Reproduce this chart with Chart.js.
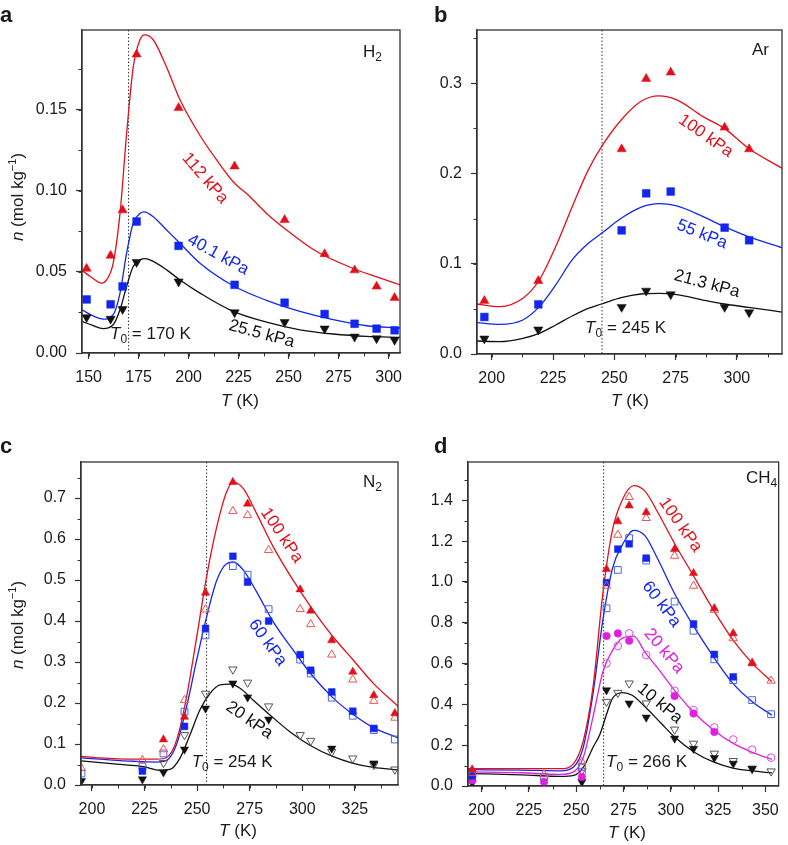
<!DOCTYPE html>
<html>
<head>
<meta charset="utf-8">
<script src="https://cdn.jsdelivr.net/npm/chart.js@4.4.1/dist/chart.umd.min.js"></script>
<style>
  html, body { margin: 0; padding: 0; background: #fff; }
  #wrap { position: relative; width: 788px; height: 845px; overflow: hidden; }
  canvas { position: absolute; left: 0; top: 0; }
</style>
</head>
<body>
<div id="wrap">
  <canvas id="ca" width="788" height="845"></canvas>
  <canvas id="cb" width="788" height="845"></canvas>
  <canvas id="cc" width="788" height="845"></canvas>
  <canvas id="cd" width="788" height="845"></canvas>
</div>
<script>
// ---- panel a : H2 ----
const aT = [149, 161, 167, 174, 195, 223, 248, 268, 283, 294, 303];
const aN112 = [0.052, 0.060, 0.088, 0.184, 0.151, 0.115, 0.082, 0.061, 0.051, 0.041, 0.034];
const aN40 = [0.033, 0.030, 0.041, 0.081, 0.066, 0.042, 0.031, 0.024, 0.018, 0.015, 0.014];
const aN25 = [0.022, 0.021, 0.027, 0.056, 0.044, 0.025, 0.019, 0.015, 0.010, 0.009, 0.008];
const aFitT112 = [146.7, 151, 156.5, 159, 162.3, 165.7, 169, 172.3, 175.7, 178, 182.3, 189, 195.7, 205.7, 214, 222.3, 230.7, 239, 249, 264, 283.3, 293.7, 305.7];
const aFit112 = [0.0508, 0.047, 0.043, 0.045, 0.0553, 0.086, 0.135, 0.176, 0.193, 0.196, 0.193, 0.176, 0.156, 0.134, 0.119, 0.1055, 0.0963, 0.086, 0.0758, 0.0625, 0.0516, 0.047, 0.042];
const aFitT40 = [146.7, 152, 157.3, 162.3, 165.7, 169, 172.3, 175.7, 177.7, 182.3, 189, 195.7, 205.7, 222.3, 239, 255.7, 272.3, 289, 305.7];
const aFit40 = [0.0266, 0.023, 0.0209, 0.0236, 0.0369, 0.0615, 0.0799, 0.086, 0.0869, 0.084, 0.0758, 0.0676, 0.0553, 0.0414, 0.0324, 0.0256, 0.0205, 0.0168, 0.0154];
const aFitT25 = [146.7, 152, 157.3, 162.3, 165.7, 169, 172.3, 175.7, 178.2, 182.3, 189, 195.7, 205.7, 222.3, 239, 255.7, 272.3, 289, 305.7];
const aFit25 = [0.0195, 0.017, 0.015, 0.0174, 0.0266, 0.041, 0.0533, 0.0574, 0.0582, 0.0564, 0.0512, 0.045, 0.0369, 0.0256, 0.019, 0.0143, 0.0117, 0.0102, 0.0096];
const aXTicks = [150, 175, 200, 225, 250, 275, 300];
const aYTicks = [0, 0.05, 0.10, 0.15];

// ---- panel b : Ar ----
const bT = [197, 219, 253, 263, 273, 295, 305];
const bN100 = [0.059, 0.081, 0.227, 0.305, 0.312, 0.251, 0.227];
const bN55 = [0.041, 0.055, 0.137, 0.178, 0.180, 0.140, 0.126];
const bN21 = [0.017, 0.027, 0.052, 0.070, 0.066, 0.052, 0.046];
const bFitT = [194, 203.3, 212.7, 219.4, 226.1, 232.8, 239.4, 244.8, 252.8, 260.8, 268.2, 275.5, 286.2, 294.9, 304.7, 318.4];
const bFit100 = [0.0554, 0.0525, 0.0617, 0.082, 0.119, 0.163, 0.204, 0.2298, 0.2593, 0.2797, 0.2859, 0.2815, 0.263, 0.250, 0.228, 0.2058];
const bFit55 = [0.0347, 0.0329, 0.0377, 0.0525, 0.0765, 0.1042, 0.1226, 0.1337, 0.1504, 0.1625, 0.1666, 0.164, 0.1522, 0.1411, 0.130, 0.1178];
const bFit21 = [0.0144, 0.0137, 0.0174, 0.0229, 0.0321, 0.0421, 0.0506, 0.0554, 0.0624, 0.0665, 0.0672, 0.0658, 0.0598, 0.0554, 0.0517, 0.0465];
const bXTicks = [200, 225, 250, 275, 300];
const bYTicks = [0, 0.1, 0.2, 0.3];

// ---- panel c : N2 (filled / open symbols) ----
const cT = [195, 224, 234, 244, 254, 267, 274, 284, 299, 304, 314, 324, 334, 344];
const cN100f = [null, null, 0.111, 0.166, 0.469, 0.739, 0.686, null, 0.477, 0.425, 0.353, 0.276, 0.219, 0.175];
const cN100o = [0.041, 0.061, 0.087, 0.207, 0.428, 0.668, 0.658, 0.573, 0.429, 0.392, 0.318, 0.257, 0.205, 0.164];
const cN60f = [null, 0.034, null, 0.143, 0.382, 0.558, 0.495, 0.400, 0.318, 0.280, 0.227, 0.180, 0.138, null];
const cN60o = [0.028, 0.045, 0.077, 0.179, 0.365, 0.534, 0.513, 0.429, 0.306, 0.272, 0.213, 0.169, 0.134, 0.111];
const cN20f = [0.010, 0.014, 0.031, 0.087, 0.187, 0.248, 0.214, 0.160, null, null, 0.089, null, 0.053, null];
const cN20o = [null, null, 0.054, 0.122, 0.223, 0.282, 0.250, 0.192, 0.122, 0.108, 0.081, 0.065, 0.049, 0.038];
const cFitT = [194.8, 203.8, 219.7, 230.7, 235.5, 240.3, 245, 249.8, 254.5, 259.3, 264, 267.2, 272, 278.3, 286.2, 295.7, 305.2, 314.7, 324.2, 333.8, 345.5];
const cFit100 = [0.070, 0.066, 0.063, 0.063, 0.067, 0.11, 0.215, 0.361, 0.508, 0.629, 0.715, 0.739, 0.723, 0.662, 0.581, 0.499, 0.426, 0.361, 0.305, 0.248, 0.192];
const cFit60 = [0.066, 0.063, 0.058, 0.056, 0.060, 0.100, 0.191, 0.305, 0.41, 0.499, 0.54, 0.544, 0.524, 0.471, 0.398, 0.329, 0.264, 0.212, 0.172, 0.140, 0.115];
const cFitT20 = [194.8, 211.7, 224.4, 232.3, 237.1, 241.8, 246.6, 251.3, 256.1, 260.9, 265.6, 270.4, 276.7, 284.6, 294.1, 303.6, 314.7, 324.2, 333.8, 345.5];
const cFit20 = [0.059, 0.051, 0.045, 0.036, 0.038, 0.065, 0.122, 0.183, 0.223, 0.244, 0.246, 0.236, 0.207, 0.171, 0.130, 0.097, 0.069, 0.053, 0.043, 0.037];
const cXTicks = [200, 225, 250, 275, 300, 325];
const cYTicks = [0, 0.1, 0.2, 0.3, 0.4, 0.5, 0.6, 0.7];

// ---- panel d : CH4 (filled / open symbols) ----
const dT = [195, 233, 253, 266, 272, 278, 287, 302, 312, 323, 333, 343, 353];
const dN100f = [0.081, null, null, 1.063, 1.297, 1.374, 1.341, 1.161, 1.043, 0.871, 0.748, 0.601, null];
const dN100o = [0.064, 0.057, 0.118, 0.981, 1.231, 1.416, 1.313, 1.128, 0.981, 0.863, 0.724, 0.604, 0.516];
const dN60f = [0.050, null, null, 0.997, 1.161, 1.187, 1.117, null, 0.794, 0.645, 0.535, null, null];
const dN60o = [0.055, 0.045, 0.093, 0.871, 1.059, 1.215, 1.105, 0.904, 0.761, 0.621, 0.519, 0.421, 0.352];
const dN20f = [0.028, 0.020, 0.044, 0.735, 0.748, 0.712, null, 0.441, 0.355, 0.265, null, null, null];
const dN20o = [0.045, 0.044, 0.069, 0.601, 0.686, 0.748, 0.642, 0.467, 0.372, 0.287, 0.228, 0.178, 0.139];
const dN10f = [0.015, null, 0.020, 0.470, null, 0.405, 0.336, 0.233, 0.183, 0.138, 0.110, 0.085, null];
const dN10o = [null, null, 0.075, 0.413, 0.457, 0.503, 0.405, 0.277, 0.208, 0.159, 0.123, 0.085, 0.072];
const dFitT = [192.8, 221.1, 241.8, 248.6, 253.8, 258.9, 264.1, 269.2, 274.4, 280.4, 286.4, 293.3, 301.9, 312.2, 322.5, 332.8, 343.1, 353.4];
const dFit100 = [0.085, 0.085, 0.085, 0.11, 0.224, 0.486, 0.945, 1.256, 1.403, 1.472, 1.444, 1.338, 1.19, 1.027, 0.863, 0.716, 0.601, 0.511];
const dFit60 = [0.080, 0.078, 0.074, 0.093, 0.192, 0.454, 0.814, 1.068, 1.182, 1.253, 1.226, 1.109, 0.945, 0.781, 0.634, 0.503, 0.413, 0.347];
const dFit20 = [0.069, 0.065, 0.057, 0.069, 0.142, 0.34, 0.56, 0.665, 0.725, 0.735, 0.655, 0.575, 0.47, 0.36, 0.275, 0.21, 0.165, 0.13];
const dFitT10 = [192.8, 221.1, 241.8, 248.6, 253.8, 258.9, 262.4, 266, 269.2, 274.4, 279.6, 286.4, 295, 301.9, 312.2, 322.5, 332.8, 343.1, 353.4];
const dFit10 = [0.061, 0.055, 0.047, 0.052, 0.093, 0.19, 0.25, 0.35, 0.43, 0.458, 0.445, 0.388, 0.306, 0.241, 0.167, 0.118, 0.088, 0.074, 0.064];
const dXTicks = [200, 225, 250, 275, 300, 325, 350];
const dYTicks = [0, 0.2, 0.4, 0.6, 0.8, 1.0, 1.2, 1.4];

const FF = '"Liberation Sans", Arial, Helvetica, sans-serif';
const RED = '#e2101a', RED_O = '#e45656';
const BLUE = '#1226ee', BLUE_O = '#5064e4';
const MAG = '#e020e0', MAG_O = '#e04ae0';
const BLK = '#111111', BLK_O = '#555555';

function pts(xs, ys) {
  return xs.map((x, i) => ({ x: x, y: ys[i] })).filter(p => p.y !== null);
}
function fit(xs, ys, color) {
  return { data: pts(xs, ys), showLine: true, pointRadius: 0, borderColor: color,
    borderWidth: 1.3, cubicInterpolationMode: 'monotone', order: 2 };
}
function marks(xs, ys, style, color, open, r, rot) {
  return { data: pts(xs, ys), showLine: false, pointStyle: style, pointRotation: rot || 0,
    pointRadius: r, pointBackgroundColor: open ? 'rgba(255,255,255,0)' : color,
    pointBorderColor: color, pointBorderWidth: open ? 1 : 0.5, order: 1 };
}

function runs(ctx, list, x, y, center) {
  let w = 0;
  list.forEach(r => { ctx.font = r[1]; w += ctx.measureText(r[0]).width; });
  let cx = center ? x - w / 2 : x;
  list.forEach(r => { ctx.font = r[1]; ctx.fillText(r[0], cx, y + (r[2] || 0)); cx += ctx.measureText(r[0]).width; });
}

function decor(p) {
  return {
    id: 'decor',
    beforeDatasetsDraw(chart) {
      const ctx = chart.ctx, a = chart.chartArea;
      const x = chart.scales.x.getPixelForValue(p.t0Line);
      ctx.save();
      ctx.strokeStyle = '#333'; ctx.lineWidth = 1; ctx.setLineDash([1.5, 2]);
      ctx.beginPath(); ctx.moveTo(x, a.top); ctx.lineTo(x, a.bottom); ctx.stroke();
      ctx.restore();
    },
    afterDraw(chart) {
      const ctx = chart.ctx, a = chart.chartArea, xs = chart.scales.x, ys = chart.scales.y;
      ctx.save();
      ctx.strokeStyle = '#333'; ctx.lineWidth = 1.3;
      ctx.strokeRect(a.left, a.top, a.right - a.left, a.bottom - a.top);
      // minor ticks
      ctx.lineWidth = 1;
      for (let v = p.xTicks[0] - p.xMinor; v <= xs.max; v += p.xMinor) {
        if (v < xs.min) continue;
        const px = Math.round(xs.getPixelForValue(v)) + 0.5;
        ctx.beginPath(); ctx.moveTo(px, a.bottom); ctx.lineTo(px, a.bottom + 3.5); ctx.stroke();
      }
      for (let v = p.yMinor; v <= ys.max; v += p.yMinor) {
        const py = Math.round(ys.getPixelForValue(v)) + 0.5;
        ctx.beginPath(); ctx.moveTo(a.left, py); ctx.lineTo(a.left - 3.5, py); ctx.stroke();
      }
      ctx.fillStyle = '#1a1a1a';
      ctx.textBaseline = 'alphabetic';
      // panel letter
      ctx.font = 'bold 22px ' + FF;
      ctx.fillText(p.letter, p.letterPos[0], p.letterPos[1]);
      // gas label
      runs(ctx, [[p.gas[0], '17px ' + FF], [p.gas[1], '12px ' + FF, 4]], p.gasPos[0], p.gasPos[1], false);
      // x title
      runs(ctx, [['T', 'italic 17px ' + FF], [' (K)', '17px ' + FF]], p.xTitle[0], p.xTitle[1], true);
      // y title
      if (p.yTitle) {
        ctx.save();
        ctx.translate(p.yTitle[0], p.yTitle[1]);
        ctx.rotate(-Math.PI / 2);
        ctx.textBaseline = 'middle';
        runs(ctx, [['n', 'italic 17px ' + FF], [' (mol kg', '17px ' + FF], ['\u22121', '11px ' + FF, -5], [')', '17px ' + FF]], 0, 0, true);
        ctx.restore();
      }
      // T0 label
      runs(ctx, [['T', 'italic 17px ' + FF], ['0', '12px ' + FF, 4], [p.t0Text, '17px ' + FF]],
        xs.getPixelForValue(p.t0Pos[0]), ys.getPixelForValue(p.t0Pos[1]), false);
      // curve labels
      p.labels.forEach(l => {
        ctx.save();
        ctx.translate(xs.getPixelForValue(l[1]), ys.getPixelForValue(l[2]));
        ctx.rotate(l[3] * Math.PI / 180);
        ctx.fillStyle = l[4];
        ctx.font = '17px ' + FF;
        ctx.textAlign = 'center'; ctx.textBaseline = 'middle';
        ctx.fillText(l[0], 0, 0);
        ctx.restore();
      });
      ctx.restore();
    }
  };
}

function panel(id, p) {
  const YW = 70, XH = 40;
  new Chart(document.getElementById(id), {
    type: 'scatter',
    data: { datasets: p.datasets },
    options: {
      responsive: false, animation: false, events: [],
      layout: { padding: { left: p.area[0] - YW, top: p.area[1], right: 788 - p.area[2], bottom: 845 - p.area[3] - XH } },
      plugins: { legend: { display: false }, tooltip: { enabled: false } },
      scales: {
        x: {
          type: 'linear', min: p.xRange[0], max: p.xRange[1],
          afterBuildTicks: s => { s.ticks = p.xTicks.map(v => ({ value: v })); },
          afterFit: s => { s.height = XH; },
          grid: { drawOnChartArea: false, tickLength: 6, color: '#333', tickWidth: 1.2 },
          border: { display: true, color: '#333', width: 1.3 },
          ticks: { autoSkip: false, maxRotation: 0, padding: 9, color: '#1a1a1a', font: { family: FF, size: 16 },
            callback: v => String(v) }
        },
        y: {
          type: 'linear', min: p.yRange[0], max: p.yRange[1],
          afterBuildTicks: s => { s.ticks = p.yTicks.map(v => ({ value: v })); },
          afterFit: s => { s.width = YW; },
          grid: { drawOnChartArea: false, tickLength: 6, color: '#333', tickWidth: 1.2 },
          border: { display: true, color: '#333', width: 1.3 },
          ticks: { autoSkip: false, padding: 9, color: '#1a1a1a', font: { family: FF, size: 16 },
            callback: v => v.toFixed(p.yDec) }
        }
      }
    },
    plugins: [decor(p)]
  });
}

panel('ca', {
  area: [82, 30, 400, 353], xRange: [146.7, 305.7], yRange: [0, 0.199],
  xTicks: aXTicks, yTicks: aYTicks, yDec: 2, xMinor: 12.5, yMinor: 0.025,
  letter: 'a', letterPos: [0, 22], gas: ['H', '2'], gasPos: [363, 57],
  xTitle: [240, 406], yTitle: [18, 197],
  t0Line: 170, t0Pos: [160.7, 0.0086], t0Text: ' = 170 K',
  labels: [['112 kPa', 208.2, 0.1076, 49, RED], ['40.1 kPa', 214.8, 0.0605, 29, BLUE], ['25.5 kPa', 236.5, 0.0117, 15, BLK]],
  datasets: [
    marks(aT, aN112, 'triangle', RED, false, 5.3),
    marks(aT, aN40, 'rect', BLUE, false, 5.5),
    marks(aT, aN25, 'triangle', BLK, false, 5.3, 180),
    fit(aFitT112, aFit112, RED), fit(aFitT40, aFit40, BLUE), fit(aFitT25, aFit25, BLK)
  ]
});

panel('cb', {
  area: [477, 30, 787, 354], xRange: [194, 318.4], yRange: [0, 0.359],
  xTicks: bXTicks, yTicks: bYTicks, yDec: 1, xMinor: 12.5, yMinor: 0.05,
  letter: 'b', letterPos: [434, 22], gas: ['Ar', ''], gasPos: [752, 55],
  xTitle: [630, 406], yTitle: null,
  t0Line: 245, t0Pos: [238.1, 0.0229], t0Text: ' = 245 K',
  labels: [['100 kPa', 287.3, 0.2416, 35, RED], ['55 kPa', 285.8, 0.1326, 22, BLUE], ['21.3 kPa', 287.8, 0.0776, 15, BLK]],
  datasets: [
    marks(bT, bN100, 'triangle', RED, false, 5.3),
    marks(bT, bN55, 'rect', BLUE, false, 5.5),
    marks(bT, bN21, 'triangle', BLK, false, 5.3, 180),
    fit(bFitT, bFit100, RED), fit(bFitT, bFit55, BLUE), fit(bFitT, bFit21, BLK)
  ]
});

panel('cc', {
  area: [81, 462, 398, 785], xRange: [194.8, 345.5], yRange: [0, 0.788],
  xTicks: cXTicks, yTicks: cYTicks, yDec: 1, xMinor: 12.5, yMinor: 0.05,
  letter: 'c', letterPos: [0, 453], gas: ['N', '2'], gasPos: [363, 487],
  xTitle: [238, 836], yTitle: [18, 625],
  t0Line: 254.5, t0Pos: [247.4, 0.0447], t0Text: ' = 254 K',
  labels: [['100 kPa', 290.2, 0.609, 56, RED], ['60 kPa', 283.5, 0.347, 54, BLUE], ['20 kPa', 274.8, 0.158, 35, BLK]],
  datasets: [
    marks(cT, cN100f, 'triangle', RED, false, 4.8),
    marks(cT, cN100o, 'triangle', RED_O, true, 4.8),
    marks(cT, cN60f, 'rect', BLUE, false, 4.8),
    marks(cT, cN60o, 'rect', BLUE_O, true, 4.8),
    marks(cT, cN20f, 'triangle', BLK, false, 4.8, 180),
    marks(cT, cN20o, 'triangle', BLK_O, true, 4.8, 180),
    fit(cFitT, cFit100, RED), fit(cFitT, cFit60, BLUE), fit(cFitT20, cFit20, BLK)
  ]
});

panel('cd', {
  area: [468, 462, 787, 786], xRange: [192.8, 357], yRange: [0, 1.588],
  xTicks: dXTicks, yTicks: dYTicks, yDec: 1, xMinor: 12.5, yMinor: 0.1,
  letter: 'd', letterPos: [434, 453], gas: ['CH', '4'], gasPos: [746, 483],
  xTitle: [627, 838], yTitle: null,
  t0Line: 264.5, t0Pos: [265.8, 0.093], t0Text: ' = 266 K',
  labels: [['100 kPa', 305, 1.28, 55, RED], ['60 kPa', 295, 0.891, 53, BLUE], ['20 kPa', 296.4, 0.662, 50, MAG], ['10 kPa', 294.2, 0.404, 40, BLK]],
  datasets: [
    marks(dT, dN100f, 'triangle', RED, false, 4.8),
    marks(dT, dN100o, 'triangle', RED_O, true, 4.8),
    marks(dT, dN60f, 'rect', BLUE, false, 4.8),
    marks(dT, dN60o, 'rect', BLUE_O, true, 4.8),
    marks(dT, dN20f, 'circle', MAG, false, 3.8),
    marks(dT, dN20o, 'circle', MAG_O, true, 3.8),
    marks(dT, dN10f, 'triangle', BLK, false, 4.8, 180),
    marks(dT, dN10o, 'triangle', BLK_O, true, 4.8, 180),
    fit(dFitT, dFit100, RED), fit(dFitT, dFit60, BLUE), fit(dFitT, dFit20, MAG), fit(dFitT10, dFit10, BLK)
  ]
});
</script>
</body>
</html>
